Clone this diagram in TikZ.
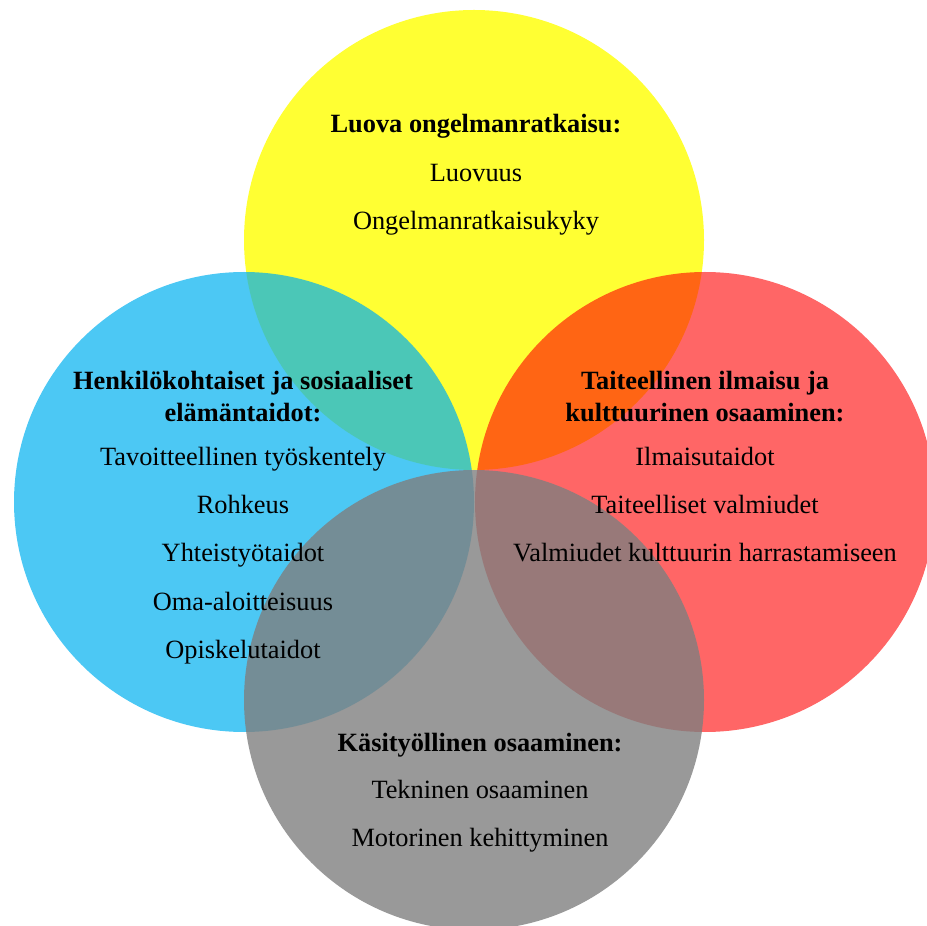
\documentclass[tikz,border=0pt]{standalone}
\usepackage{fontspec}
\setmainfont{Liberation Serif}
\usetikzlibrary{positioning}
\definecolor{vyellow}{RGB}{255,255,0}
\definecolor{vblue}{RGB}{0,176,240}
\definecolor{vred}{RGB}{255,0,0}
\definecolor{vgray}{RGB}{127,127,127}

\begin{document}
\begin{tikzpicture}[
  blob/.style={circle, minimum size=92mm, inner sep=0pt, draw=none},
  ln/.style={font=\fontsize{15}{18}\selectfont, inner sep=0pt, text height=3.6mm, text depth=1mm},
  hd/.style={ln, font=\fontsize{15}{18}\selectfont\bfseries},
  node distance=4.9mm
]
\useasboundingbox (0,0) rectangle (18.54,18.5);
\clip (0,0) rectangle (18.54,18.5);
% the four circles
\node[blob, fill=vyellow, fill opacity=0.8] (luova) at (9.48,13.70) {};
\node[blob, fill=vblue, fill opacity=0.7] (henk) at (4.88,8.46) {};
\node[blob, fill=vred, fill opacity=0.6] (taide) at (14.10,8.46) {};
\node[blob, fill=vgray, fill opacity=0.8] (kasi) at (9.48,4.50) {};
% top
\node[hd, anchor=base] (luovaT) at (9.52,15.84) {Luova ongelmanratkaisu:};
\node[ln, below=of luovaT] (luova1) {Luovuus};
\node[ln, below=of luova1] (luova2) {Ongelmanratkaisukyky};
% left
\node[hd, anchor=base] (henkT) at (4.86,10.70) {Henkilökohtaiset ja sosiaaliset};
\node[hd, below=1.6mm of henkT] (henkT2) {elämäntaidot:};
\node[ln, below=4mm of henkT2] (henk1) {Tavoitteellinen työskentely};
\node[ln, below=of henk1] (henk2) {Rohkeus};
\node[ln, below=of henk2] (henk3) {Yhteistyötaidot};
\node[ln, below=of henk3] (henk4) {Oma-aloitteisuus};
\node[ln, below=of henk4] (henk5) {Opiskelutaidot};
% right
\node[hd, anchor=base] (taideT) at (14.10,10.70) {Taiteellinen ilmaisu ja};
\node[hd, below=1.6mm of taideT] (taideT2) {kulttuurinen osaaminen:};
\node[ln, below=4mm of taideT2] (taide1) {Ilmaisutaidot};
\node[ln, below=of taide1] (taide2) {Taiteelliset valmiudet};
\node[ln, below=of taide2] (taide3) {Valmiudet kulttuurin harrastamiseen};
% bottom
\node[hd, anchor=base] (kasiT) at (9.60,3.48) {Käsityöllinen osaaminen:};
\node[ln, below=4.8mm of kasiT] (kasi1) {Tekninen osaaminen};
\node[ln, below=of kasi1] (kasi2) {Motorinen kehittyminen};
\end{tikzpicture}
\end{document}
